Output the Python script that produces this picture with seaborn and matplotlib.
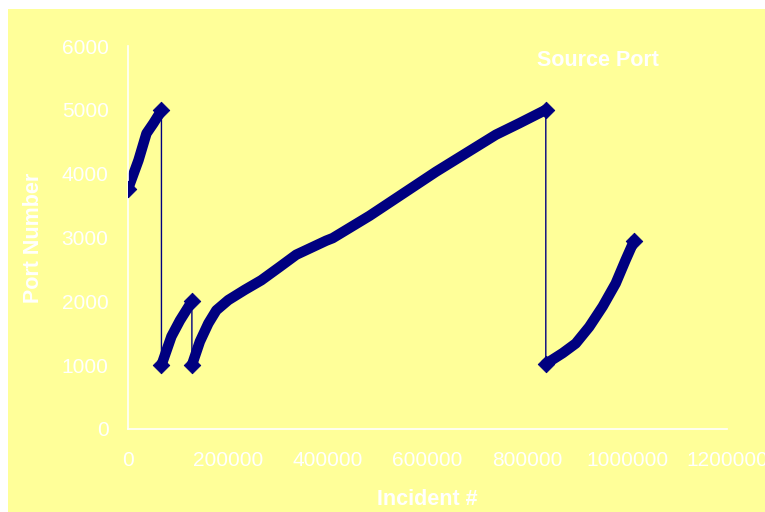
import numpy as np
import pandas as pd
import matplotlib
matplotlib.use("Agg")
import matplotlib.pyplot as plt
import seaborn as sns
from matplotlib.patches import Rectangle

# ---- data ----
seg1_x = [0, 21000, 37000, 51000, 67000]
seg1_y = [3760, 4210, 4630, 4790, 4990]
seg2_x = [67000, 87000, 104000, 128000]
seg2_y = [1000, 1450, 1700, 2000]
seg3_x = [128000, 144000, 161000, 177000, 201000, 234000, 267000, 304000,
          337000, 397000, 410000, 484000, 617000, 737000, 784000, 837000]
seg3_y = [1000, 1370, 1655, 1860, 2020, 2180, 2330, 2540,
          2730, 2950, 2990, 3340, 4030, 4610, 4790, 5000]
seg4_x = [837000, 871000, 897000, 924000, 951000, 977000, 997000, 1014000]
seg4_y = [1020, 1190, 1340, 1600, 1920, 2280, 2650, 2950]

series_name = "Source Port"
x_label = "Incident #"
y_label = "Port Number"
x_ticks = [0, 200000, 400000, 600000, 800000, 1000000, 1200000]
y_ticks = [0, 1000, 2000, 3000, 4000, 5000, 6000]

segs = [(seg1_x, seg1_y), (seg2_x, seg2_y), (seg3_x, seg3_y), (seg4_x, seg4_y)]
rows = []
order = 0
for i, (xs, ys) in enumerate(segs):
    for x, y in zip(xs, ys):
        rows.append({"incident": x, "port": y, "segment": i, "order": order})
        order += 1
df = pd.DataFrame(rows)

NAVY = "#000080"
YELLOW = "#FFFF99"

sns.set_theme(style="white")
plt.rcParams["font.family"] = ["Liberation Sans", "DejaVu Sans"]

fig = plt.figure(figsize=(7.65, 5.12), dpi=100, facecolor="white")
fig.patches.append(Rectangle((8 / 765, 0), 1, 1 - 9 / 512, transform=fig.transFigure,
                             facecolor=YELLOW, edgecolor="none", zorder=-10))
ax = fig.add_axes([128 / 765, 1 - 429 / 512, 599 / 765, 383 / 512])
ax.set_facecolor("none")
ax.patch.set_alpha(0)

# thin connecting line through all points (vertical drops)
sns.lineplot(data=df, x="incident", y="port", sort=False, estimator=None,
             color=NAVY, linewidth=1.0, ax=ax, legend=False)
# thick segments
sns.lineplot(data=df, x="incident", y="port", units="segment", estimator=None,
             sort=False, color=NAVY, linewidth=7.5, ax=ax, legend=False,
             solid_capstyle="round", solid_joinstyle="round")
# diamond ends
end_df = pd.concat([
    df.groupby("segment").head(1), df.groupby("segment").tail(1)])
sns.scatterplot(data=end_df, x="incident", y="port", marker="D", s=70,
                color=NAVY, edgecolor=NAVY, ax=ax, legend=False, zorder=5)

ax.set_xlim(0, 1200000)
ax.set_ylim(0, 6000)
ax.set_xticks(x_ticks)
ax.set_xticklabels([str(v) for v in x_ticks])
ax.set_yticks(y_ticks)
ax.set_yticklabels([str(v) for v in y_ticks])

for s in ["top", "right"]:
    ax.spines[s].set_visible(False)
for s in ["left", "bottom"]:
    ax.spines[s].set_color("white")
    ax.spines[s].set_linewidth(1.2)

ax.tick_params(axis="both", colors="white", labelcolor="white", length=6,
               width=1.2, direction="out", labelsize=15)
ax.tick_params(axis="x", pad=10)
ax.tick_params(axis="y", pad=8)
ax.grid(False)

ax.set_xlabel(x_label, color="white", fontsize=15.5, fontweight="bold")
ax.set_ylabel(y_label, color="white", fontsize=15.5, fontweight="bold")
ax.xaxis.set_label_coords(0.5, -0.157)
ax.yaxis.set_label_coords(-0.140, 0.5)

fig.text(598 / 765, 1 - 60 / 512, series_name, color="white", fontsize=15.5,
         fontweight="bold", ha="center", va="center")

fig.savefig("out.png", dpi=100, facecolor=fig.get_facecolor())
